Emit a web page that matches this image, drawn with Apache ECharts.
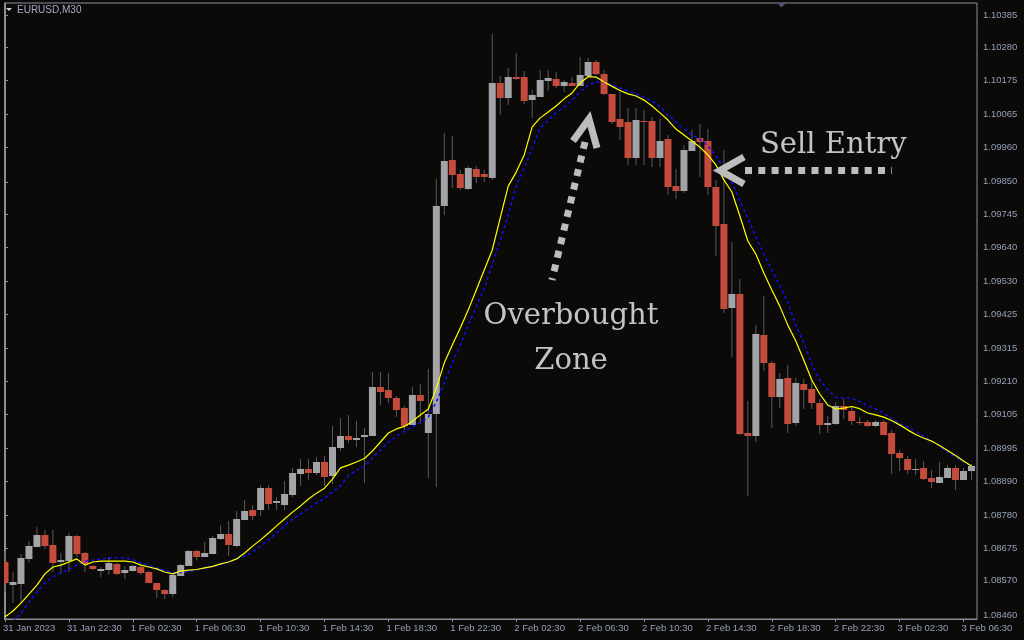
<!DOCTYPE html>
<html><head><meta charset="utf-8">
<script src="https://cdn.jsdelivr.net/npm/echarts@6/dist/echarts.min.js"></script>
<style>html,body{margin:0;padding:0;background:#0c0a09;}#c{width:1024px;height:640px;}</style>
</head><body><div id="c"></div>
<script>
const symbolName = 'EURUSD,M30';
const xTickLabels = ['31 Jan 2023','31 Jan 22:30','1 Feb 02:30','1 Feb 06:30','1 Feb 10:30','1 Feb 14:30','1 Feb 18:30','1 Feb 22:30','2 Feb 02:30','2 Feb 06:30','2 Feb 10:30','2 Feb 14:30','2 Feb 18:30','2 Feb 22:30','3 Feb 02:30','3 Feb 06:30'];
const barsPerXTick = 8;
const yTickLabels = [1.10385,1.10280,1.10175,1.10065,1.09960,1.09850,1.09745,1.09640,1.09530,1.09425,1.09315,1.09210,1.09105,1.08995,1.08890,1.08780,1.08675,1.08570,1.08460];

const opens = [1.08630,1.08557,1.08560,1.08641,1.08679,1.08717,1.08685,1.08630,1.08634,1.08713,
1.08660,1.08617,1.08601,1.08604,1.08624,1.08596,1.08601,1.08614,1.08598,1.08563,
1.08540,1.08527,1.08585,1.08617,1.08665,1.08646,1.08656,1.08704,1.08720,1.08681,
1.08765,1.08797,1.08797,1.08867,1.08819,1.08813,1.08845,1.08912,1.08928,1.08916,
1.08951,1.08906,1.08996,1.09034,1.09021,1.09031,1.09034,1.09192,1.09182,1.09156,
1.09124,1.09070,1.09166,1.09044,1.09105,1.09772,1.09920,1.09875,1.09827,1.09891,
1.09875,1.09862,1.10167,1.10119,1.10186,1.10186,1.10112,1.10122,1.10173,1.10180,
1.10157,1.10167,1.10157,1.10189,1.10234,1.10196,1.10131,1.10051,1.10042,1.09926,
1.10045,1.10045,1.09926,1.09987,1.09836,1.09820,1.09949,1.09990,1.09981,1.09833,
1.09714,1.09445,1.09490,1.09044,1.09034,1.09358,1.09269,1.09159,1.09220,1.09076,
1.09201,1.09185,1.09140,1.09070,1.09073,1.09131,1.09114,1.09079,1.09079,1.09066,
1.09079,1.09044,1.08980,1.08960,1.08925,1.08932,1.08900,1.08884,1.08900,1.08932,
1.08893,1.08922];
const closes = [1.08563,1.08566,1.08643,1.08681,1.08717,1.08682,1.08628,1.08636,1.08713,1.08656,
1.08623,1.08608,1.08608,1.08626,1.08592,1.08604,1.08617,1.08596,1.08563,1.08540,
1.08527,1.08588,1.08620,1.08665,1.08646,1.08659,1.08707,1.08720,1.08685,1.08768,
1.08794,1.08778,1.08867,1.08816,1.08826,1.08848,1.08916,1.08928,1.08916,1.08951,
1.08903,1.08999,1.09034,1.09021,1.09028,1.09038,1.09192,1.09175,1.09156,1.09118,
1.09066,1.09166,1.09147,1.09105,1.09772,1.09917,1.09872,1.09830,1.09894,1.09865,
1.09865,1.10167,1.10119,1.10186,1.10180,1.10109,1.10128,1.10176,1.10183,1.10157,
1.10170,1.10157,1.10192,1.10234,1.10196,1.10131,1.10042,1.10026,1.09926,1.10048,
1.10042,1.09926,1.09981,1.09833,1.09820,1.09952,1.09981,1.09978,1.09833,1.09708,
1.09442,1.09490,1.09041,1.09034,1.09362,1.09269,1.09159,1.09217,1.09073,1.09204,
1.09182,1.09140,1.09070,1.09076,1.09131,1.09118,1.09082,1.09076,1.09066,1.09079,
1.09038,1.08977,1.08964,1.08925,1.08928,1.08896,1.08887,1.08903,1.08932,1.08893,
1.08922,1.08938];
const lows = [1.08534,1.08498,1.08498,1.08627,1.08678,1.08672,1.08599,1.08592,1.08599,1.08647,
1.08599,1.08604,1.08583,1.08588,1.08588,1.08575,1.08598,1.08588,1.08562,1.08516,
1.08511,1.08517,1.08585,1.08617,1.08636,1.08646,1.08656,1.08701,1.08649,1.08679,
1.08765,1.08765,1.08778,1.08797,1.08797,1.08797,1.08839,1.08874,1.08893,1.08909,
1.08874,1.08880,1.08986,1.09013,1.09000,1.08884,1.09034,1.09135,1.09140,1.09095,
1.09054,1.09070,1.09076,1.08900,1.08871,1.09743,1.09830,1.09824,1.09824,1.09846,
1.09849,1.09856,1.10064,1.10096,1.10176,1.10099,1.10055,1.10122,1.10141,1.10151,
1.10138,1.10157,1.10157,1.10189,1.10192,1.10128,1.10035,1.09984,1.09904,1.09904,
1.09904,1.09897,1.09897,1.09807,1.09795,1.09814,1.09949,1.09865,1.09807,1.09612,
1.09429,1.09288,1.09038,1.08842,1.09015,1.09243,1.09060,1.09124,1.09044,1.09066,
1.09121,1.09121,1.09041,1.09044,1.09070,1.09089,1.09070,1.09070,1.09063,1.09063,
1.09038,1.08912,1.08922,1.08912,1.08909,1.08893,1.08867,1.08884,1.08900,1.08861,
1.08893,1.08893];
const highs = [1.08665,1.08599,1.08656,1.08697,1.08743,1.08733,1.08733,1.08659,1.08724,1.08717,
1.08662,1.08620,1.08615,1.08646,1.08627,1.08618,1.08620,1.08620,1.08601,1.08563,
1.08543,1.08592,1.08624,1.08669,1.08669,1.08695,1.08713,1.08749,1.08763,1.08794,
1.08829,1.08813,1.08877,1.08877,1.08839,1.08890,1.08933,1.08960,1.08960,1.08968,
1.08970,1.09066,1.09092,1.09102,1.09082,1.09060,1.09240,1.09240,1.09236,1.09163,
1.09131,1.09192,1.09201,1.09249,1.09859,1.10006,1.09997,1.09888,1.09901,1.09901,
1.09888,1.10324,1.10189,1.10215,1.10263,1.10205,1.10144,1.10209,1.10209,1.10202,
1.10176,1.10186,1.10250,1.10247,1.10240,1.10209,1.10131,1.10144,1.10087,1.10087,
1.10080,1.10058,1.10051,1.10000,1.09891,1.09968,1.10016,1.10035,1.10019,1.09856,
1.09952,1.09657,1.09538,1.09147,1.09390,1.09483,1.09275,1.09236,1.09262,1.09220,
1.09217,1.09211,1.09153,1.09098,1.09143,1.09153,1.09127,1.09095,1.09086,1.09086,
1.09086,1.09054,1.08989,1.08970,1.08960,1.08954,1.08925,1.08951,1.08941,1.08941,
1.08932,1.08945];
const maYellow = [1.08454,1.08473,1.08498,1.08527,1.08556,1.08592,1.08614,1.08620,1.08630,1.08640,
1.08620,1.08630,1.08633,1.08633,1.08633,1.08633,1.08630,1.08620,1.08614,1.08608,
1.08598,1.08592,1.08601,1.08604,1.08606,1.08611,1.08616,1.08624,1.08630,1.08640,
1.08659,1.08681,1.08701,1.08723,1.08746,1.08768,1.08790,1.08810,1.08832,1.08851,
1.08867,1.08896,1.08932,1.08941,1.08951,1.08962,1.08986,1.09015,1.09044,1.09057,
1.09065,1.09082,1.09102,1.09121,1.09188,1.09269,1.09326,1.09381,1.09439,1.09503,
1.09567,1.09631,1.09734,1.09836,1.09881,1.09936,1.10026,1.10055,1.10074,1.10093,
1.10116,1.10135,1.10167,1.10187,1.10186,1.10170,1.10156,1.10143,1.10132,1.10125,
1.10112,1.10093,1.10071,1.10048,1.10019,1.10000,1.09981,1.09961,1.09936,1.09904,
1.09856,1.09817,1.09740,1.09660,1.09618,1.09557,1.09503,1.09451,1.09390,1.09339,
1.09278,1.09214,1.09169,1.09134,1.09121,1.09124,1.09129,1.09122,1.09108,1.09102,
1.09095,1.09084,1.09070,1.09054,1.09039,1.09028,1.09018,1.09004,1.08988,1.08972,
1.08954,1.08938];
const maBlue = [null,1.08440,1.08466,1.08502,1.08534,1.08563,1.08582,1.08595,1.08606,1.08620,
1.08633,1.08636,1.08640,1.08643,1.08644,1.08643,1.08638,1.08627,1.08619,1.08611,
1.08603,1.08596,1.08596,1.08600,1.08604,1.08611,1.08616,1.08622,1.08630,1.08640,
1.08649,1.08662,1.08681,1.08701,1.08723,1.08746,1.08768,1.08784,1.08802,1.08819,
1.08834,1.08855,1.08875,1.08906,1.08925,1.08936,1.08964,1.08989,1.09015,1.09034,
1.09049,1.09063,1.09076,1.09095,1.09143,1.09204,1.09269,1.09326,1.09390,1.09448,
1.09509,1.09583,1.09663,1.09743,1.09836,1.09894,1.09958,1.10022,1.10048,1.10071,
1.10090,1.10112,1.10138,1.10160,1.10170,1.10170,1.10160,1.10151,1.10141,1.10132,
1.10122,1.10109,1.10091,1.10064,1.10042,1.10019,1.10000,1.09986,1.09965,1.09933,
1.09894,1.09849,1.09788,1.09734,1.09673,1.09618,1.09567,1.09516,1.09464,1.09390,
1.09333,1.09265,1.09214,1.09182,1.09159,1.09156,1.09156,1.09145,1.09132,1.09121,
1.09108,1.09090,1.09074,1.09063,1.09049,1.09034,1.09018,1.09001,1.08983,1.08967,
1.08951,1.08938];

const candleData = opens.map((o, i) => [i, o, closes[i], lows[i], highs[i]]);
const yellowData = maYellow.map((v, i) => [i, v]);
const blueData = maBlue.map((v, i) => [i, v]);
const xTickValues = xTickLabels.map((_, i) => i * barsPerXTick);

const BULL = '#a2a4a7', BEAR = '#c54b3c', WICK = '#5a5a5c';
const AXIS = '#8a8e9a', TXT = '#93a0b8', ANN = '#bdbdbd';

const chart = echarts.init(document.getElementById('c'), null, {renderer: 'canvas'});
chart.setOption({
  animation: false,
  backgroundColor: '#0c0a09',
  grid: {left: 3, right: 47, top: 3, bottom: 21, show: true, borderColor: AXIS, borderWidth: 1, backgroundColor: 'transparent'},
  xAxis: {
    type: 'value', min: -0.0625, max: 121.6875,
    axisLine: {show: true, lineStyle: {color: AXIS}},
    axisTick: {show: true, length: 3, customValues: xTickValues, lineStyle: {color: AXIS}},
    axisLabel: {customValues: xTickValues, formatter: v => xTickLabels[Math.round(v / barsPerXTick)],
      color: TXT, fontFamily: 'Liberation Sans', fontSize: 9.5, align: 'left', margin: 4, padding: [0,0,0,-2]},
    splitLine: {show: false}
  },
  yAxis: {
    type: 'value', position: 'right', min: 1.084472, max: 1.104235, scale: true,
    axisLine: {show: true, lineStyle: {color: AXIS}},
    axisTick: {show: true, length: 3, customValues: yTickLabels, lineStyle: {color: AXIS}},
    axisLabel: {customValues: yTickLabels, formatter: v => v.toFixed(5), color: TXT,
      fontFamily: 'Liberation Sans', fontSize: 9.5, margin: 6},
    splitLine: {show: false}
  },
  series: [
    {
      type: 'custom', data: candleData, clip: true, z: 2,
      renderItem: function (params, api) {
        const x = api.value(0), o = api.value(1), c = api.value(2), l = api.value(3), h = api.value(4);
        const pO = api.coord([x, o]), pC = api.coord([x, c]), pL = api.coord([x, l]), pH = api.coord([x, h]);
        const bw = api.size([1, 0])[0] * 0.875;
        const cx = pO[0];
        const top = Math.round(Math.min(pO[1], pC[1]));
        const bot = Math.round(Math.max(pO[1], pC[1]));
        return {type: 'group', children: [
          {type: 'line', shape: {x1: cx, y1: Math.round(pH[1]), x2: cx, y2: Math.round(pL[1])}, style: {stroke: WICK, lineWidth: 1}},
          {type: 'rect', shape: {x: cx - bw / 2, y: top, width: bw, height: Math.max(bot - top, 1)}, style: {fill: c >= o ? BULL : BEAR}}
        ]};
      }
    },
    {type: 'line', data: blueData, showSymbol: false, clip: true, z: 3, lineStyle: {color: '#1010ff', width: 1.5, type: [3, 3]}},
    {type: 'line', data: yellowData, showSymbol: false, clip: true, z: 4, lineStyle: {color: '#ffff00', width: 1.2}}
  ],
  graphic: [
    {type: 'polygon', shape: {points: [[6, 8], [12, 8], [9, 11]]}, style: {fill: '#cfd3da'}},
    {type: 'text', x: 17, y: 5, style: {text: symbolName, fill: '#a3adc0', font: '10px "Liberation Sans"'}},
    {type: 'polygon', shape: {points: [[777, 3], [786, 3], [781.5, 7.5]]}, style: {fill: '#4b4f7c'}},
    {type: 'line', shape: {x1: 585, y1: 142, x2: 552, y2: 280}, style: {stroke: ANN, lineWidth: 7, lineDash: [7, 7]}, z: 10},
    {type: 'polyline', shape: {points: [[573, 141], [589, 119], [597, 148]]}, style: {stroke: ANN, lineWidth: 7, fill: null}, z: 10},
    {type: 'text', x: 571, y: 294, style: {text: 'Overbought\nZone', fill: '#c4c4c4', font: '29px "DejaVu Serif"', textAlign: 'center', lineHeight: 45}, z: 10},
    {type: 'line', shape: {x1: 745, y1: 170.5, x2: 892, y2: 170.5}, style: {stroke: ANN, lineWidth: 7, lineDash: [7, 6.3]}, z: 10},
    {type: 'polyline', shape: {points: [[744, 157], [720, 170.5], [744, 184]]}, style: {stroke: ANN, lineWidth: 7, fill: null}, z: 10},
    {type: 'text', x: 760, y: 131, style: {text: 'Sell Entry', fill: '#c4c4c4', font: '29px "DejaVu Serif"'}, z: 10}
  ]
});
</script>
</body></html>
